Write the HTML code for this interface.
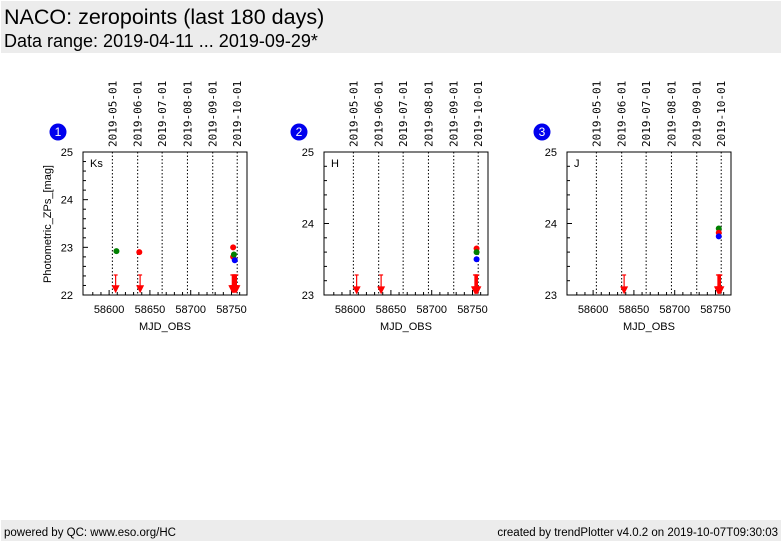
<!DOCTYPE html>
<html><head><meta charset="utf-8"><style>
body{margin:0;width:782px;height:542px;background:#fff;font-family:"Liberation Sans",sans-serif;overflow:hidden}
</style></head><body>
<svg id="s" width="782" height="542" xmlns="http://www.w3.org/2000/svg" font-family="Liberation Sans, sans-serif">
<rect x="1" y="1" width="780" height="52" fill="#ececec"/>
<text x="4" y="24" font-size="21.5">NACO: zeropoints (last 180 days)</text>
<text x="4" y="47" font-size="18">Data range: 2019-04-11 ... 2019-09-29*</text>
<rect x="1" y="520" width="780" height="21" fill="#ececec"/>
<text x="4" y="536" font-size="11.5">powered by QC: www.eso.org/HC</text>
<text x="778" y="536" font-size="11.5" text-anchor="end">created by trendPlotter v4.0.2 on 2019-10-07T09:30:03</text>
</svg>
<script>
const panelLabels=["Ks","H","J"];
const yMins=[22,23,23];
const yMaxs=[25,25,25];
const dateLabels=["2019-05-01","2019-06-01","2019-07-01","2019-08-01","2019-09-01","2019-10-01"];
const dateMjd=[58604,58635,58665,58696,58727,58757];
const xTicks=[58600,58650,58700,58750];
const ptMjd=[[58609,58637,58752,58752,58753,58754],[58755,58755,58755],[58754,58754,58754]];
const ptVal=[[22.92,22.9,23.0,22.8,22.85,22.73],[23.65,23.6,23.5],[23.93,23.87,23.82]];
const ptCol=[["green","red","red","red","green","blue"],["red","green","blue"],["green","red","blue"]];
const limMjd=[[58608,58638,58751,58752,58753,58754,58755,58756],[58608,58638,58753,58754,58755,58756],[58638,58753,58754,58755,58756]];
const limTop=[22.42,23.28,23.28];
const limBot=[22.1,23.05,23.05];
const svg=document.getElementById('s');const NS="http://www.w3.org/2000/svg";
function mk(t,a,p){const e=document.createElementNS(NS,t);for(const k in a)e.setAttribute(k,a[k]);(p||svg).appendChild(e);return e;}
const lefts=[83,324,567],PW=164,TOP=152,PH=143,x0=58568,x1=58769;
for(let p=0;p<3;p++){
 const L=lefts[p];
 const g=mk('g',{});
 
 
 const X=v=>L+(v-x0)/(x1-x0)*PW;
 const Y=v=>TOP+PH-(v-yMins[p])/(yMaxs[p]-yMins[p])*PH;
 dateMjd.forEach((m,i)=>{
  const l=mk('line',{x1:X(m),x2:X(m),y1:TOP,y2:TOP+PH,stroke:'#000','stroke-width':1,'stroke-dasharray':'1.5,2'},g);
  
  
  const t=mk('text',{x:0,y:0,'font-size':11,transform:`translate(${X(m)+4},${TOP-5}) rotate(-90)`,'font-family':'DejaVu Sans Mono, Liberation Mono, monospace'},g);
  t.textContent=dateLabels[i];
  
  
 });
 for(let m=58580;m<=58765;m+=10){mk('line',{x1:X(m),x2:X(m),y1:TOP+PH,y2:TOP+PH-(m%50==0?5:3),stroke:'#000'},g);}
 xTicks.forEach(m=>{const t=mk('text',{x:X(m),y:TOP+PH+18,'font-size':11,'text-anchor':'middle'},g);t.textContent=m;
  
  });
 for(let v=yMins[p];v<=yMaxs[p]+1e-6;v+=0.2){const major=Math.abs(v-Math.round(v))<1e-6;
  mk('line',{x1:L,x2:L+(major?5:3),y1:Y(v),y2:Y(v),stroke:'#000'},g);
  if(major){const t=mk('text',{x:L-10,y:Y(v)+4,'font-size':11,'text-anchor':'end'},g);t.textContent=Math.round(v);
  
  }}
 const fr=mk('rect',{x:L,y:TOP,width:PW,height:PH,fill:'none',stroke:'#000'},g);
 
 
 const lb=mk('text',{x:L+7,y:TOP+15,'font-size':11},g);lb.textContent=panelLabels[p];
 
 
 const xt=mk('text',{x:L+PW/2,y:TOP+PH+35,'font-size':11,'text-anchor':'middle'},g);xt.textContent='MJD_OBS';
 
 
 const c=mk('circle',{cx:L-25,cy:132,r:8.5,fill:'#0000ee'},g);
 
 
 const n=mk('text',{x:L-25,y:136,'font-size':12,fill:'#fff','text-anchor':'middle'},g);n.textContent=p+1;
 
 
 limMjd[p].forEach(m=>{const x=X(m),y1=Y(limTop[p]),y2=Y(limBot[p]);
  const a=mk('g',{},g);
  
  
  mk('line',{x1:x,x2:x,y1:y1,y2:y2,stroke:'red','stroke-width':1.2},a);
  mk('line',{x1:x-2,x2:x+2,y1:y1,y2:y1,stroke:'red','stroke-width':1.2},a);
  mk('polygon',{points:`${x-4},${y2-5} ${x+4},${y2-5} ${x},${y2+3}`,fill:'red'},a);});
 ptMjd[p].forEach((m,i)=>{const d=mk('circle',{cx:X(m),cy:Y(ptVal[p][i]),r:3,fill:ptCol[p][i]},g);
  
  });
}
const yt=mk('text',{x:0,y:0,'font-size':11,'text-anchor':'middle',transform:'translate(51,224) rotate(-90)'});
yt.textContent='Photometric_ZPs_[mag]';


</script>
</body></html>
